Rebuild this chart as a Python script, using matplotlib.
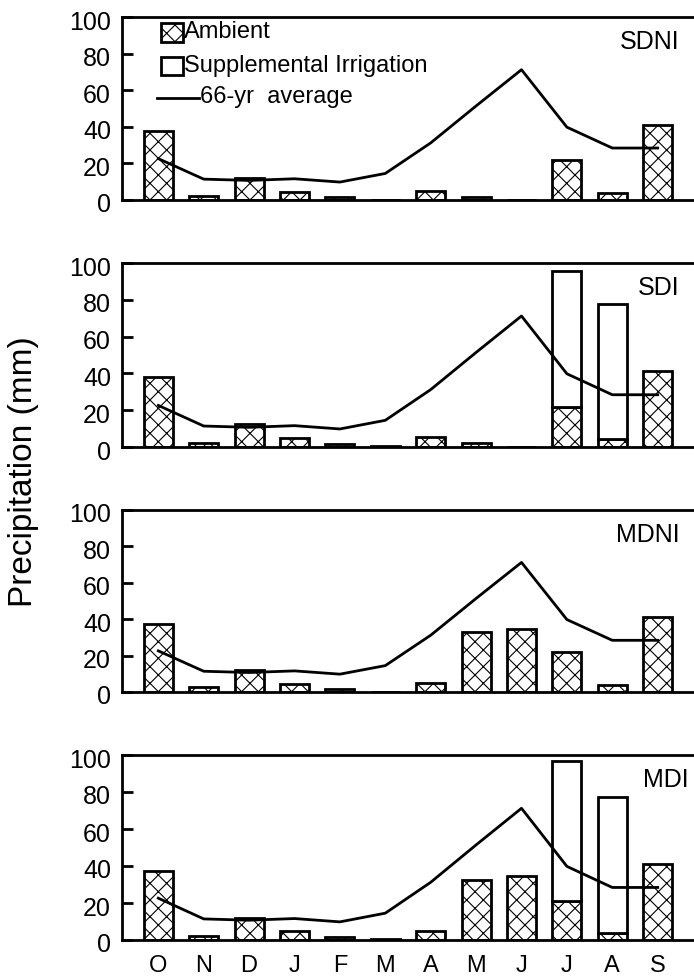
import matplotlib
matplotlib.use('Agg')
import matplotlib.pyplot as plt
import matplotlib.transforms as mtransforms
from matplotlib.patches import Rectangle
from matplotlib.lines import Line2D

plt.rcParams['font.family'] = ['Liberation Sans', 'DejaVu Sans']
plt.rcParams['hatch.linewidth'] = 0.8

# months, water year Oct -> Sep
months = ['O', 'N', 'D', 'J', 'F', 'M', 'A', 'M', 'J', 'J', 'A', 'S']

# 66-yr average precipitation (mm)
avg_66yr = [22.6, 11.4, 10.7, 11.6, 9.8, 14.5, 31.2, 51.4, 71.2, 39.8, 28.4, 28.4]

# ambient precipitation per treatment (mm)
ambient_sdni = [37.5, 2.3, 12.0, 4.5, 1.5, 0.0, 5.0, 1.8, 0.0, 21.7, 4.0, 41.0]
ambient_sdi = [38.0, 2.4, 12.7, 4.9, 1.8, 0.5, 5.4, 2.4, 0.0, 21.7, 4.2, 41.5]
ambient_mdni = [37.5, 2.5, 12.0, 4.5, 1.5, 0.0, 5.0, 32.7, 34.6, 21.8, 4.0, 41.0]
ambient_mdi = [37.2, 2.3, 12.0, 5.0, 1.5, 0.5, 5.0, 32.4, 34.8, 21.2, 3.9, 41.2]

# supplemental irrigation (mm), stacked on ambient
suppl_sdni = [0] * 12
suppl_sdi = [0, 0, 0, 0, 0, 0, 0, 0, 0, 73.9, 73.7, 0]
suppl_mdni = [0] * 12
suppl_mdi = [0, 0, 0, 0, 0, 0, 0, 0, 0, 75.7, 73.2, 0]

panels = [
    ('SDNI', ambient_sdni, suppl_sdni),
    ('SDI', ambient_sdi, suppl_sdi),
    ('MDNI', ambient_mdni, suppl_mdni),
    ('MDI', ambient_mdi, suppl_mdi),
]

W, H = 694, 977
fig = plt.figure(figsize=(W / 100, H / 100), dpi=100)

# pixel boxes (top, bottom) of each panel
boxes = [(17, 200), (263, 447), (510, 692), (755, 940)]
left_px = 122
label_x = [0.975, 0.975, 0.975, 0.99]
lw = 2.0

# y tick labels sit a little below their ticks in the original
shift = mtransforms.ScaledTranslation(0, -3 / 100, fig.dpi_scale_trans)

x = list(range(len(months)))
for i, (name, amb, sup) in enumerate(panels):
    top, bot = boxes[i]
    ax = fig.add_axes([left_px / W, 1 - bot / H, 1 - left_px / W, (bot - top) / H])

    ax.bar(x, amb, width=0.64, color='white', edgecolor='black', linewidth=lw,
           hatch='xx', zorder=2)
    has_sup = [j for j in x if sup[j] > 0]
    ax.bar([x[j] for j in has_sup], [sup[j] for j in has_sup], width=0.64,
           bottom=[amb[j] for j in has_sup], color='white', edgecolor='black',
           linewidth=lw, zorder=2)
    ax.plot(x, avg_66yr, color='black', linewidth=lw, zorder=3)

    ax.set_xlim(-0.8, 11.8)
    ax.set_ylim(0, 100)
    ax.set_yticks([0, 20, 40, 60, 80, 100])
    ax.tick_params(axis='y', direction='in', length=8, width=lw, pad=8,
                   labelsize=18)
    for lab in ax.get_yticklabels():
        lab.set_transform(lab.get_transform() + shift)
    ax.set_xticks(x)
    ax.tick_params(axis='x', length=0, pad=11, labelsize=17)
    if i < 3:
        ax.set_xticklabels([])
    else:
        ax.set_xticklabels(months)
    for s in ['left', 'top', 'bottom']:
        ax.spines[s].set_linewidth(lw)
    ax.spines['right'].set_visible(False)

    ax.text(label_x[i], 0.865, name, transform=ax.transAxes, ha='right',
            va='center', fontsize=18)

    if i == 0:
        # legend drawn by hand so the line handle can be longer than the boxes
        def px(xp, yp):
            return ((xp - left_px) / (W - left_px), (bot - yp) / (bot - top))
        x0, y0 = px(161, 42)
        x1, y1 = px(183, 23)
        ax.add_patch(Rectangle((x0, y0), x1 - x0, y1 - y0, transform=ax.transAxes,
                               facecolor='white', edgecolor='black', linewidth=lw,
                               hatch='xx', zorder=4))
        x0, y0 = px(161, 75)
        x1, y1 = px(183, 57)
        ax.add_patch(Rectangle((x0, y0), x1 - x0, y1 - y0, transform=ax.transAxes,
                               facecolor='white', edgecolor='black', linewidth=lw,
                               zorder=4))
        a0, b0 = px(157, 98)
        a1, _ = px(199, 98)
        ax.add_line(Line2D([a0, a1], [b0, b0], transform=ax.transAxes,
                           color='black', linewidth=lw, zorder=4))
        tx, ty = px(184, 32)
        ax.text(tx, ty, 'Ambient', transform=ax.transAxes, va='center', fontsize=17)
        tx, ty = px(184, 66)
        ax.text(tx, ty, 'Supplemental Irrigation', transform=ax.transAxes,
                va='center', fontsize=17)
        tx, ty = px(200, 97)
        ax.text(tx, ty, '66-yr  average', transform=ax.transAxes, va='center',
                fontsize=17)

fig.text(24 / W, 1 - 472 / H, 'Precipitation (mm)', rotation=90, ha='center',
         va='center', fontsize=24)

fig.savefig('out.png', dpi=100)
